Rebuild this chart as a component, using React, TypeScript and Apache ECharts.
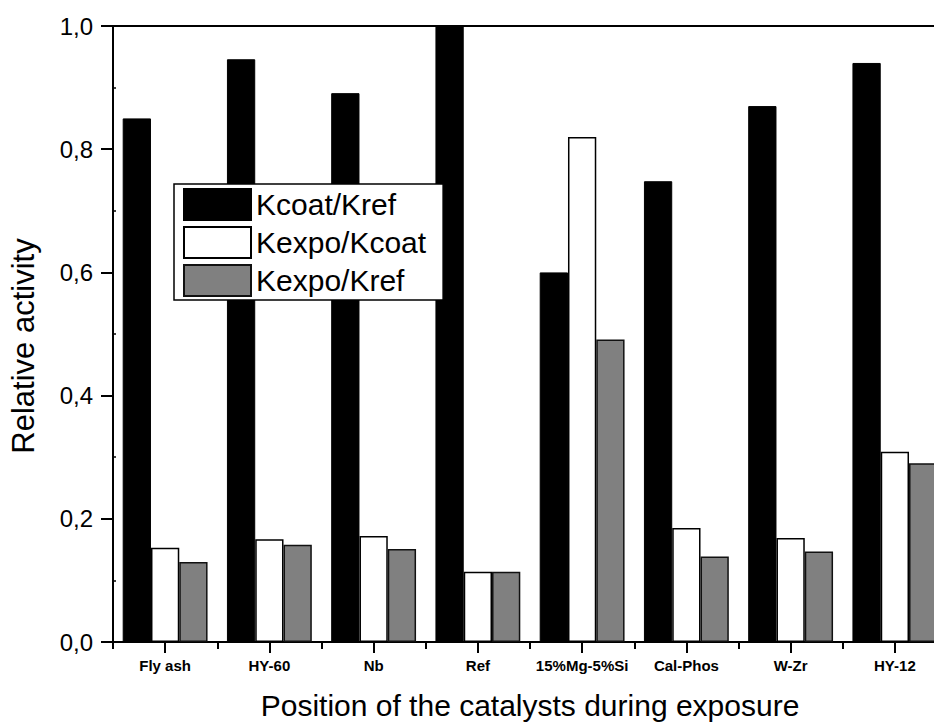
import React, { useEffect, useRef } from "react";
import * as echarts from "echarts";

const categories = ["Fly ash", "HY-60", "Nb", "Ref", "15%Mg-5%Si", "Cal-Phos", "W-Zr", "HY-12"];
const seriesNames = ["Kcoat/Kref", "Kexpo/Kcoat", "Kexpo/Kref"];
const kcoatKref = [0.85, 0.946, 0.891, 1.0, 0.6, 0.748, 0.87, 0.94];
const kexpoKcoat = [0.153, 0.167, 0.172, 0.114, 0.82, 0.185, 0.169, 0.309];
const kexpoKref = [0.13, 0.158, 0.151, 0.114, 0.491, 0.139, 0.147, 0.29];
const yMin = 0;
const yMax = 1.0;
const yStep = 0.2;

const FONT = "'Liberation Sans', Arial, Helvetica, sans-serif";

export default function App() {
  const ref = useRef<HTMLDivElement>(null);
  useEffect(() => {
    if (!ref.current) return;
    const chart = echarts.init(ref.current, null, { renderer: "svg" });
    const fmt = (v: number) => v.toFixed(1).replace(".", ",");
    chart.setOption({
      animation: false,
      backgroundColor: "#fff",
      textStyle: { fontFamily: FONT, color: "#000" },
      grid: {
        left: 111,
        top: 26,
        width: 836,
        height: 616,
        show: true,
        borderColor: "#000",
        borderWidth: 2,
        backgroundColor: "transparent",
      },
      legend: {
        orient: "vertical",
        left: 174,
        top: 184,
        data: seriesNames,
        icon: "rect",
        itemWidth: 67,
        itemHeight: 31,
        itemGap: 5,
        padding: [4, 17, 3, 9],
        backgroundColor: "#fff",
        borderColor: "#000",
        borderWidth: 1.5,
        borderRadius: 0,
        textStyle: { fontSize: 30, lineHeight: 31, color: "#000", fontFamily: FONT },
      },
      xAxis: [
        {
          type: "category",
          data: categories,
          position: "bottom",
          name: "Position of the catalysts during exposure",
          nameLocation: "middle",
          nameGap: 48,
          nameTextStyle: { fontSize: 30, color: "#000", fontFamily: FONT },
          axisLine: { show: true, lineStyle: { color: "#000", width: 2 } },
          axisTick: { show: true, alignWithLabel: true, length: 11, lineStyle: { color: "#000", width: 2 } },
          axisLabel: { interval: 0, margin: 16, fontSize: 15, fontWeight: "bold", color: "#000", fontFamily: FONT },
          splitLine: { show: false },
        },
        {
          type: "category",
          data: categories,
          position: "bottom",
          axisLine: { show: false },
          axisTick: { show: true, length: 7, lineStyle: { color: "#000", width: 2 } },
          axisLabel: { show: false },
          splitLine: { show: false },
        },
      ],
      yAxis: [
        {
          type: "value",
          min: yMin,
          max: yMax,
          interval: yStep,
          position: "left",
          name: "Relative activity",
          nameLocation: "middle",
          nameGap: 74,
          nameTextStyle: { fontSize: 31, color: "#000", fontFamily: FONT, padding: [0, 24, 0, 0] },
          axisLine: { show: true, lineStyle: { color: "#000", width: 2 } },
          axisTick: { show: true, length: 12, lineStyle: { color: "#000", width: 2 } },
          axisLabel: { margin: 20, fontSize: 24, color: "#000", fontFamily: FONT, formatter: fmt },
          splitLine: { show: false },
        },
        {
          type: "value",
          min: yMin,
          max: yMax,
          interval: yStep,
          position: "left",
          axisLine: { show: false },
          axisTick: { show: false, inside: true },
          minorTick: { show: true, splitNumber: 2, length: 3, lineStyle: { color: "#000", width: 1.5 } },
          axisLabel: { show: false },
          splitLine: { show: false },
        },
      ],
      series: [
        {
          name: seriesNames[0],
          type: "bar",
          data: kcoatKref,
          barGap: "0%",
          barCategoryGap: "18.6%",
          itemStyle: { color: "#000", borderColor: "#000", borderWidth: 1 },
        },
        {
          name: seriesNames[1],
          type: "bar",
          data: kexpoKcoat,
          barGap: "0%",
          barCategoryGap: "18.6%",
          itemStyle: { color: "#fff", borderColor: "#000", borderWidth: 1.5 },
        },
        {
          name: seriesNames[2],
          type: "bar",
          data: kexpoKref,
          barGap: "0%",
          barCategoryGap: "18.6%",
          itemStyle: { color: "#808080", borderColor: "#111", borderWidth: 1.5 },
        },
      ],
    });
    return () => chart.dispose();
  }, []);
  return (
    <div
      style={{
        position: "fixed",
        left: 0,
        top: 0,
        width: 934,
        height: 725,
        overflow: "hidden",
        background: "#fff",
      }}
    >
      <div ref={ref} style={{ width: 960, height: 725 }} />
    </div>
  );
}
